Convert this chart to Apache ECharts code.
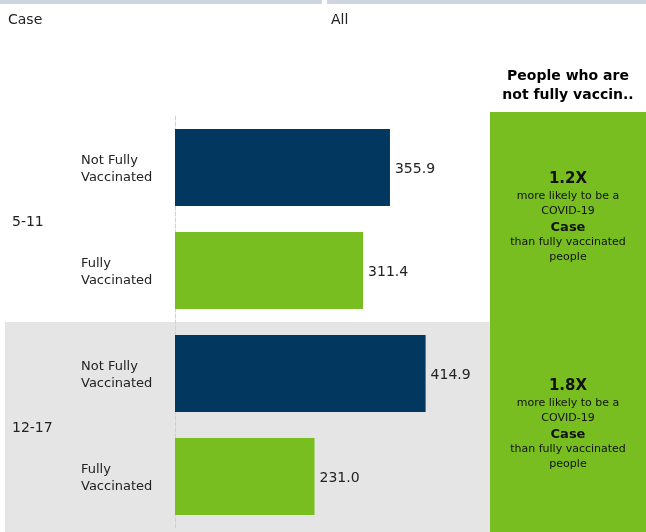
<!DOCTYPE html>
<html>
<head>
<meta charset="utf-8">
<script src="https://cdn.jsdelivr.net/npm/echarts@6/dist/echarts.min.js"></script>
<style>
  html, body { margin: 0; padding: 0; background: #fff; }
  #chart { width: 646px; height: 532px; }
</style>
</head>
<body>
<div id="chart"></div>
<script>
// Case rates by age group and vaccination status
const ageGroups = ['5-11', '12-17'];
const statusLabels = ['Not Fully\nVaccinated', 'Fully\nVaccinated'];
const notFullyValues = [355.9, 414.9];
const fullyValues = [311.4, 231.0];
const ratioLabels = ['1.2X', '1.8X'];
const outcomeLabel = 'Case';

const FONT = 'DejaVu Sans, sans-serif';
const NAVY = '#02375F';
const GREEN = '#78BE20';

// Flatten into rows: one row per (age group, status)
const rowLabels = [];
const rowData = [];
ageGroups.forEach((g, i) => {
  rowLabels.push(statusLabels[0]);
  rowData.push({ value: notFullyValues[i], itemStyle: { color: NAVY } });
  rowLabels.push(statusLabels[1]);
  rowData.push({ value: fullyValues[i], itemStyle: { color: GREEN } });
});

const chart = echarts.init(document.getElementById('chart'), null, { renderer: 'canvas' });

const gridTop = 116, gridHeight = 412, gridLeft = 175, gridWidth = 302;
const groupH = gridHeight / ageGroups.length;

const graphics = [
  // header strips
  { type: 'rect', shape: { x: 0, y: 0, width: 322, height: 4 }, style: { fill: '#CDD6DF' }, silent: true },
  { type: 'rect', shape: { x: 327, y: 0, width: 319, height: 4 }, style: { fill: '#CDD6DF' }, silent: true },
  { type: 'text', x: 8, y: 20, style: { text: 'Case', font: '14px ' + FONT, fill: '#222', textVerticalAlign: 'middle' } },
  { type: 'text', x: 331, y: 20, style: { text: 'All', font: '14px ' + FONT, fill: '#222', textVerticalAlign: 'middle' } },
  // shaded band behind the second age group
  { type: 'rect', z: -10, shape: { x: 5, y: gridTop + groupH, width: 485, height: 532 - (gridTop + groupH) }, style: { fill: '#E5E5E5' }, silent: true },
  // comparison panel
  { type: 'rect', shape: { x: 490, y: 112, width: 156, height: 420 }, style: { fill: GREEN }, silent: true },
  { type: 'text', x: 568, y: 76, style: { text: 'People who are', font: 'bold 14px ' + FONT, fill: '#000', textAlign: 'center', textVerticalAlign: 'middle' } },
  { type: 'text', x: 568, y: 95, style: { text: 'not fully vaccin..', font: 'bold 14px ' + FONT, fill: '#000', textAlign: 'center', textVerticalAlign: 'middle' } }
];

ageGroups.forEach((g, i) => {
  const cy = gridTop + groupH * (i + 0.5) + i + 1.5;
  const lines = [
    { t: ratioLabels[i], f: 'bold 15px ', dy: -41 },
    { t: 'more likely to be a', f: '11px ', dy: -24 },
    { t: 'COVID-19', f: '11px ', dy: -9 },
    { t: outcomeLabel, f: 'bold 13px ', dy: 7 },
    { t: 'than fully vaccinated', f: '11px ', dy: 22 },
    { t: 'people', f: '11px ', dy: 37 }
  ];
  lines.forEach(l => {
    graphics.push({ type: 'text', x: 568, y: cy + l.dy, style: { text: l.t, font: l.f + FONT, fill: '#111', textAlign: 'center', textVerticalAlign: 'middle' } });
  });
});

// each line gets a little top padding so the two-line block sits a touch lower
const statusFormatter = v => v.split('\n').map(s => '{a|' + s + '}').join('\n');

chart.setOption({
  animation: false,
  backgroundColor: '#fff',
  grid: { left: gridLeft, top: gridTop, width: gridWidth, height: gridHeight },
  xAxis: {
    type: 'value', min: 0, max: 500,
    show: false
  },
  yAxis: [
    {
      type: 'category', inverse: true, data: rowLabels,
      axisLine: { show: true, lineStyle: { color: '#D0D0D0', type: 'dashed', width: 1 } },
      axisTick: { show: false },
      axisLabel: {
        align: 'left', margin: 94, formatter: statusFormatter,
        rich: {
          a: { fontFamily: FONT, fontSize: 13, color: '#222', lineHeight: 17, padding: [4, 0, 0, 0] }
        }
      }
    },
    {
      type: 'category', inverse: true, data: ageGroups, position: 'left',
      axisLine: { show: false }, axisTick: { show: false },
      axisLabel: {
        align: 'left', margin: 163, formatter: v => '{g|' + v + '}',
        rich: { g: { fontFamily: FONT, fontSize: 14, color: '#222', lineHeight: 17, padding: [6, 0, 0, 0] } }
      }
    }
  ],
  series: [{
    type: 'bar',
    yAxisIndex: 0,
    data: rowData,
    barWidth: 77,
    label: {
      show: true, position: 'right', distance: 5, offset: [0, 2],
      fontFamily: FONT, fontSize: 14, color: '#222',
      formatter: p => p.value.toFixed(1)
    }
  }],
  graphic: graphics
});
</script>
</body>
</html>
